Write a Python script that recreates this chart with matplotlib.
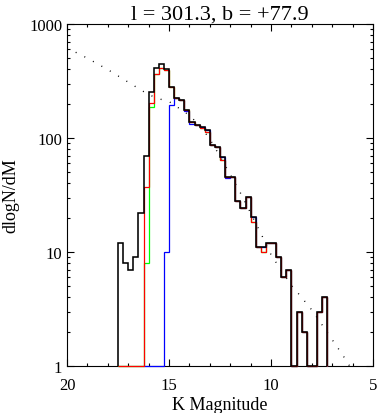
import matplotlib
matplotlib.use("Agg")
import matplotlib.pyplot as plt
import numpy as np
from matplotlib.ticker import FixedLocator, FuncFormatter, NullFormatter

# histogram bins (K magnitude), faint -> bright
BIN_START = 17.5
BIN_WIDTH = 0.25

# dlogN/dM per bin (0 = empty bin)
k_total = [12, 8, 7, 9, 22, 69, 252, 409, 446, 401, 282, 224, 214, 177, 137,
           129, 125, 117, 86, 83, 68, 45.5, 45.5, 27.8, 24.3, 30.2, 20.2, 11, 11, 12,
           12, 9, 6, 7, 0, 3, 2, 0, 0, 3, 4]
k_red = [0, 0, 0, 0, 0, 37, 201, 366, 409, 394, 278, 224, 214, 177, 137,
         129, 122, 113, 86, 83, 64, 45.5, 45.5, 27.8, 24.3, 30.2, 18.2, 11, 10, 12,
         12, 9, 6, 7, 0, 3, 2, 0, 0, 3, 4]
k_green = [0, 0, 0, 0, 0, 8, 186, 366, 409, 394, 278, 224, 214, 177, 137,
           129, 122, 113, 86, 83, 64, 45.5, 45.5, 27.8, 24.3, 30.2, 18.2, 11, 10, 12,
           12, 9, 6, 7, 0, 3, 2, 0, 0, 3, 4]
k_blue = [0, 0, 0, 0, 0, 0, 0, 0, 0, 10, 196, 224, 214, 174, 134,
          129, 125, 117, 86, 83, 68, 44.5, 45.5, 27.8, 24.3, 30.2, 20.2, 11, 11, 12,
          12, 9, 6, 7, 0, 3, 2, 0, 0, 3, 4]
BLUE_FIRST_BIN = 5  # blue histogram starts here

# model counts (dotted)
model_mag = [20.0, 19.0, 18.0, 17.0, 16.0, 15.5, 15.0, 14.5, 14.0, 13.5, 13.0, 12.5,
             12.0, 11.5, 11.0, 10.5, 10.0, 9.5, 9.0, 8.5, 8.0, 7.5, 7.0, 6.5, 6.0, 5.5]
model_val = [617, 501, 398, 309, 240, 221, 209, 182, 158, 129, 98, 69,
             48, 33, 22, 14.6, 9.5, 6.9, 5.1, 4.0, 3.1, 2.3, 1.7, 1.26, 0.91, 0.66]

FONT = "Liberation Serif"


def draw_hist(ax, values, first, color, lw, z):
    """Draw a step histogram; empty bins sit on the bottom axis"""

    vals = np.array(values[first:], dtype=float)
    vals[vals <= 0] = 1.0
    edges = BIN_START - BIN_WIDTH * np.arange(first, len(values) + 1)
    ax.stairs(vals[::-1], edges[::-1], baseline=1.0, color=color, lw=lw,
              zorder=z, clip_on=False)


def main():
    plt.rcParams["font.family"] = [FONT, "DejaVu Serif"]
    fig = plt.figure(figsize=(3.80, 4.14), dpi=100)
    ax = fig.add_axes([67 / 380, 47 / 414, 306 / 380, 342 / 414])

    ax.plot(model_mag, model_val, color="black", lw=1.0,
            linestyle=(0, (0.7, 6.3)), zorder=2)

    draw_hist(ax, k_green, 0, "#00ff00", 0.9, 3.0)
    draw_hist(ax, k_blue, BLUE_FIRST_BIN, "#0000ff", 0.9, 3.1)
    draw_hist(ax, k_red, 0, "#ff0000", 0.9, 3.2)
    draw_hist(ax, k_total, 0, "black", 1.15, 3.3)

    ax.set_yscale("log")
    ax.set_xlim(20, 5)
    ax.set_ylim(1, 1000)

    ax.xaxis.set_major_locator(FixedLocator([20, 15, 10, 5]))
    ax.xaxis.set_minor_locator(FixedLocator(np.arange(5, 21, 1)))
    ax.yaxis.set_major_locator(FixedLocator([1, 10, 100, 1000]))
    ax.yaxis.set_minor_locator(FixedLocator(
        [m * d for d in (1, 10, 100) for m in range(2, 10)]))
    ax.yaxis.set_major_formatter(FuncFormatter(lambda v, p: f"{v:g}"))
    ax.yaxis.set_minor_formatter(NullFormatter())

    ax.tick_params(which="both", direction="in", top=True, right=True,
                   width=0.8, labelsize=12)
    ax.tick_params(which="major", length=4.7)
    ax.tick_params(axis="x", which="major", pad=8)
    ax.tick_params(axis="y", which="major", pad=3.5)
    ax.tick_params(which="minor", length=2.4)
    for s in ax.spines.values():
        s.set_linewidth(0.8)

    ax.set_xlabel("K Magnitude", fontsize=13, labelpad=2)
    ax.set_ylabel("dlogN/dM", fontsize=13, labelpad=7)
    ax.set_title("l = 301.3, b = +77.9", fontsize=16, pad=4)

    fig.savefig("out.png", dpi=100)


if __name__ == "__main__":
    main()
